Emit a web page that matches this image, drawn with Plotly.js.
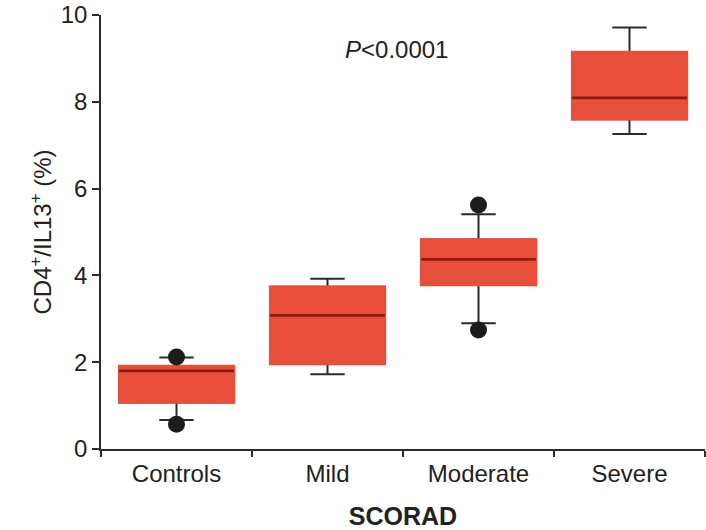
<!DOCTYPE html>
<html>
<head>
<meta charset="utf-8">
<script src="https://cdn.plot.ly/plotly-3.0.1.min.js"></script>
<style>
  html, body { margin: 0; padding: 0; background: #fff; }
  #chart { width: 706px; height: 530px; }
</style>
</head>
<body>
<div id="chart"></div>
<script>
// ---- data ----
const categories = ["Controls", "Mild", "Moderate", "Severe"];
const lowerWhisker = [0.67, 1.72, 2.90, 7.26];
const q1Values     = [1.07, 1.96, 3.78, 7.60];
const medianValues = [1.80, 3.08, 4.37, 8.09];
const q3Values     = [1.91, 3.74, 4.83, 9.15];
const upperWhisker = [2.11, 3.92, 5.41, 9.71];
const outlierCats  = ["Controls", "Controls", "Moderate", "Moderate"];
const outlierVals  = [2.12, 0.57, 5.62, 2.74];
const annotationText = "<i>P</i><0.0001";
const yTitle = "CD4<sup>+</sup>/IL13<sup>+</sup> (%)";
const xTitle = "<b>SCORAD</b>";

const BOX_RED = "#E84E3C";
const MED_RED = "#8E1B10";
const DARK = "#2b2b2b";
const FONT = "Liberation Sans, Arial, Helvetica, sans-serif";

// whiskers (gray box underneath, outline hidden by red box drawn on top)
const whiskerTrace = {
  type: "box",
  x: categories,
  q1: q1Values, median: medianValues, q3: q3Values,
  lowerfence: lowerWhisker, upperfence: upperWhisker,
  boxpoints: false,
  width: 0.76,
  whiskerwidth: 0.3,
  fillcolor: "rgba(0,0,0,0)",
  line: { color: DARK, width: 2 },
  hoverinfo: "skip",
  showlegend: false
};

// red filled boxes
const boxTrace = {
  type: "box",
  x: categories,
  q1: q1Values, median: q1Values, q3: q3Values,
  lowerfence: q1Values, upperfence: q3Values,
  boxpoints: false,
  width: 0.76,
  whiskerwidth: 0,
  fillcolor: BOX_RED,
  line: { color: BOX_RED, width: 2.5 },
  showlegend: false
};

// median lines
const medianTrace = {
  type: "box",
  x: categories,
  q1: medianValues, median: medianValues, q3: medianValues,
  lowerfence: medianValues, upperfence: medianValues,
  boxpoints: false,
  width: 0.76,
  whiskerwidth: 0,
  fillcolor: "rgba(0,0,0,0)",
  line: { color: MED_RED, width: 2.8 },
  hoverinfo: "skip",
  showlegend: false
};

const outlierTrace = {
  type: "scatter",
  mode: "markers",
  x: outlierCats,
  y: outlierVals,
  marker: { color: "#1c1c1c", size: 17 },
  showlegend: false
};

const layout = {
  width: 706,
  height: 530,
  margin: { l: 101, r: 1, t: 15, b: 81 },
  paper_bgcolor: "#fff",
  plot_bgcolor: "#fff",
  boxmode: "overlay",
  showlegend: false,
  font: { family: FONT, color: "#222", size: 24 },
  xaxis: {
    type: "category",
    categoryorder: "array",
    categoryarray: categories,
    range: [-0.5, 3.5],
    showgrid: false,
    zeroline: false,
    showline: true,
    linecolor: DARK,
    linewidth: 1.8,
    ticks: "outside",
    tickson: "boundaries",
    ticklen: 6,
    tickwidth: 1.8,
    tickcolor: DARK,
    ticklabelstandoff: 2,
    tickfont: { family: FONT, size: 24, color: "#222" },
    title: { text: xTitle, font: { family: FONT, size: 25, color: "#222" }, standoff: 22 }
  },
  yaxis: {
    range: [0, 10],
    dtick: 2,
    showgrid: false,
    zeroline: false,
    showline: true,
    linecolor: DARK,
    linewidth: 1.8,
    ticks: "outside",
    ticklen: 7,
    tickwidth: 1.8,
    tickcolor: DARK,
    tickfont: { family: FONT, size: 24, color: "#222" },
    title: { text: yTitle, font: { family: FONT, size: 24, color: "#222" }, standoff: 2 }
  },
  annotations: [{
    text: annotationText,
    xref: "paper", yref: "paper",
    x: 0.49, y: 0.92,
    xanchor: "center", yanchor: "middle",
    showarrow: false,
    font: { family: FONT, size: 24, color: "#222" }
  }]
};

Plotly.newPlot("chart", [whiskerTrace, boxTrace, medianTrace, outlierTrace], layout, { displayModeBar: false, staticPlot: true });
</script>
</body>
</html>
